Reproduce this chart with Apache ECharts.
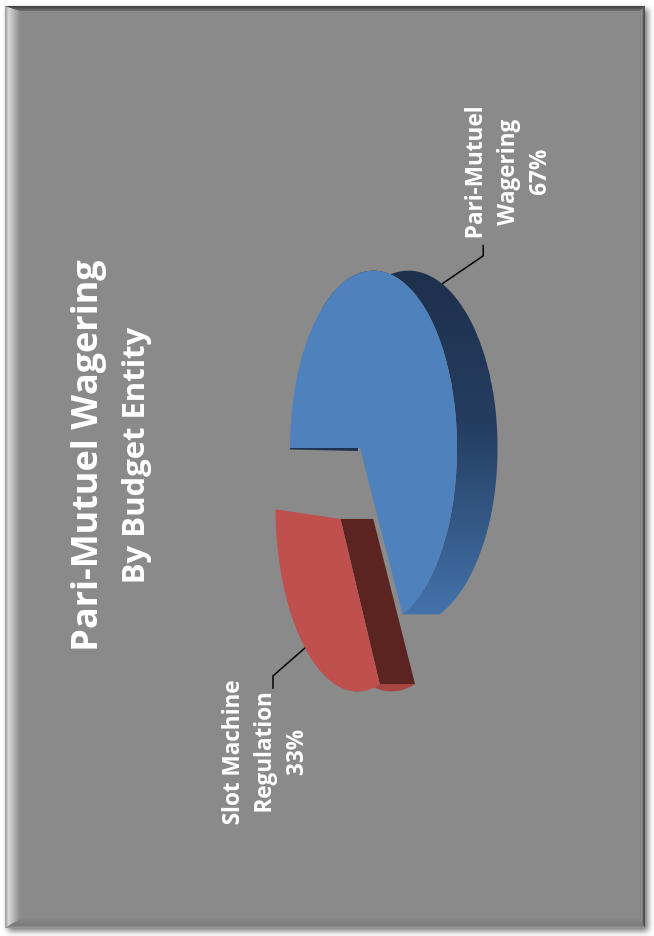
<!DOCTYPE html>
<html><head><meta charset="utf-8">
<script src="https://cdn.jsdelivr.net/npm/echarts@6/dist/echarts.min.js"></script>
<style>
html,body{margin:0;padding:0;background:#fff;overflow:hidden;width:654px;height:936px}
#wrap{position:absolute;left:0;top:0;width:936px;height:654px;transform-origin:0 0;transform:translate(0,936px) rotate(-90deg)}
#main{width:936px;height:654px}
</style></head>
<body><div id="wrap"><div id="main"></div></div>
<script>
// ---- data ----
const titleText = 'Pari-Mutuel Wagering';
const subtitleText = 'By Budget Entity';
const categories = ['Pari-Mutuel Wagering', 'Slot Machine Regulation'];
const labelNames = ['Pari-Mutuel\nWagering', 'Slot Machine\nRegulation'];
const values = [67, 33];
const explode = [0, 0.49];

// ---- geometry / style (not data) ----
const CX = 488, CY = 360, R = 175, RT = 81.3, P = 0.162, DEPTH = 34;
const WALL_MIN = 60 * Math.PI / 180, WALL_MAX = 300 * Math.PI / 180;
const faceColors = ['#4f81bd', '#c0504d'];
const outerWallColors = [
  {type:'linear', x:1, y:0, x2:0, y2:0, colorStops:[{offset:0,color:'#1d304c'},{offset:0.45,color:'#243d60'},{offset:1,color:'#4372aa'}]},
  '#a8463f'
];
const cutWallColors = ['#1f3350', '#5b2421'];
const labelLayout = [
  {du: 28, dv: 41, tail: 11, tx: 72, ty: -24},
  {du: -28, dv: -32, tail: -13, tx: -64, ty: -56}
];

const total = values.reduce((s, v) => s + v, 0);
const angles = [];
let acc = 0;
values.forEach(v => { const a = acc / total * Math.PI * 2; acc += v; angles.push([a, acc / total * Math.PI * 2]); });

function proj(xd, zd, h) {
  const k = 1 / (1 - P * zd);
  return [CX + R * xd * k, CY + (RT * zd + DEPTH * h) * k];
}
function arc(ex, ez, a, b, h) {
  const n = Math.max(2, Math.ceil((b - a) / (Math.PI / 180)));
  const pts = [];
  for (let i = 0; i <= n; i++) {
    const t = a + (b - a) * i / n;
    pts.push(proj(ex + Math.sin(t), ez - Math.cos(t), h));
  }
  return pts;
}

function renderItem(params, api) {
  const i = params.dataIndex;
  const [a, b] = angles[i];
  const m = (a + b) / 2;
  const e = explode[i];
  const ex = e * Math.sin(m), ez = -e * Math.cos(m);
  const children = [];
  // outer wall (front part only)
  const wa = Math.max(a, WALL_MIN), wb = Math.min(b, WALL_MAX);
  if (wb > wa) {
    const wt = arc(ex, ez, wa, wb, 0);
    const wbt = arc(ex, ez, wa, wb, 1).reverse();
    children.push({type:'polygon', z2: 1, shape:{points: wt.concat(wbt)}, style:{fill: outerWallColors[i]}});
  }
  const top = arc(ex, ez, a, b, 0);
  // radial walls
  const c0 = proj(ex, ez, 0), c1 = proj(ex, ez, 1);
  if (Math.sin(a) < -1e-6) {
    const p0 = proj(ex + Math.sin(a), ez - Math.cos(a), 0), p1 = proj(ex + Math.sin(a), ez - Math.cos(a), 1);
    children.push({type:'polygon', z2: 2, shape:{points:[c0, p0, p1, c1]}, style:{fill: cutWallColors[i]}});
  }
  if (Math.sin(b) > 1e-6) {
    const p0 = proj(ex + Math.sin(b), ez - Math.cos(b), 0), p1 = proj(ex + Math.sin(b), ez - Math.cos(b), 1);
    children.push({type:'polygon', z2: 2, shape:{points:[c0, p0, p1, c1]}, style:{fill: cutWallColors[i]}});
  }
  if (Math.abs(Math.sin(a)) < 1e-6 && e === 0) {
    // edge-on wall at 12 o'clock: thin dark sliver
    const p0 = proj(ex, ez - 1, 0);
    children.push({type:'polygon', z2: 2, shape:{points:[[c0[0] + 1, c0[1] - 2], [c0[0] - 3, c0[1] - 2], [p0[0] - 1.5, p0[1]], [p0[0] + 1, p0[1]]]}, style:{fill: cutWallColors[i]}});
  }
  // top face
  children.push({type:'polygon', z2: 5, shape:{points:[c0].concat(top)}, style:{fill: faceColors[i]}});
  // label + leader
  const zd = -(1 + e) * Math.cos(m);
  const start = proj((1 + e) * Math.sin(m), zd, zd > 0 ? 1 : 0);
  const L = labelLayout[i];
  const elbow = [start[0] + L.du, start[1] + L.dv];
  const end = [elbow[0] + L.tail, elbow[1]];
  children.push({type:'polyline', z2: 6, shape:{points:[start, elbow, end]}, style:{stroke:'#000', lineWidth:1.5, fill:null}});
  const pct = Math.round(api.value(0) / total * 100) + '%';
  children.push({type:'text', z2: 7, style:{
    text: labelNames[i] + '\n' + pct, x: end[0] + L.tx, y: elbow[1] + L.ty,
    align:'center', verticalAlign:'top', fill:'#ffffff',
    fontSize: 22.5, fontWeight:'bold', fontFamily:'"Open Sans"', lineHeight: 32
  }});
  return {type:'group', children};
}

// frame
const X0 = 8, X1 = 930, Y0 = 5, Y1 = 645;
const IX0 = 17, IX1 = 925, IY0 = 20, IY1 = 640;
const frame = [
  {type:'rect', z:0, shape:{x:X0, y:Y0, width:X1-X0, height:Y1-Y0}, style:{fill:'#8a8a8a', shadowBlur:6, shadowColor:'rgba(0,0,0,0.55)', shadowOffsetX:-3, shadowOffsetY:3}},
  {type:'polygon', z:0, shape:{points:[[X0,Y0],[X1,Y0],[IX1,IY0],[IX0,IY0]]}, style:{fill:{type:'linear',x:0,y:0,x2:0,y2:1,colorStops:[{offset:0,color:'#9c9c9c'},{offset:0.25,color:'#d6d6d6'},{offset:0.5,color:'#bdbdbd'},{offset:1,color:'#8c8c8c'}]}}},
  {type:'polygon', z:0, shape:{points:[[X1,Y0],[X1,Y1],[IX1,IY1],[IX1,IY0]]}, style:{fill:{type:'linear',x:1,y:0,x2:0,y2:0,colorStops:[{offset:0,color:'#3f3f3f'},{offset:1,color:'#707070'}]}}},
  {type:'polygon', z:0, shape:{points:[[X0,Y1],[X1,Y1],[IX1,IY1],[IX0,IY1]]}, style:{fill:{type:'linear',x:0,y:0,x2:0,y2:1,colorStops:[{offset:0,color:'#7a7a7a'},{offset:0.4,color:'#9a9a9a'},{offset:0.6,color:'#5a5a5a'},{offset:1,color:'#4a4a4a'}]}}},
  {type:'polygon', z:0, shape:{points:[[X0,Y0],[IX0,IY0],[IX0,IY1],[X0,Y1]]}, style:{fill:{type:'linear',x:0,y:0,x2:1,y2:0,colorStops:[{offset:0,color:'#9a9a9a'},{offset:0.3,color:'#7a7a7a'},{offset:1,color:'#868686'}]}}}
];

const chart = echarts.init(document.getElementById('main'), null, {renderer:'canvas'});
chart.setOption({
  animation: false,
  backgroundColor: '#ffffff',
  graphic: frame,
  title: {
    text: titleText, subtext: subtitleText,
    left: 480, top: 65, textAlign: 'center', padding: 0, itemGap: 7,
    textStyle: {color:'#ffffff', fontSize: 36, fontWeight:'bold', fontFamily:'"Open Sans"', lineHeight: 44},
    subtextStyle: {color:'#ffffff', fontSize: 31, fontWeight:'bold', fontFamily:'"Open Sans"', lineHeight: 38}
  },
  series: [{
    type: 'custom', coordinateSystem: 'none', renderItem,
    data: values.map((v, i) => ({name: categories[i], value: v}))
  }]
});
</script></body></html>
